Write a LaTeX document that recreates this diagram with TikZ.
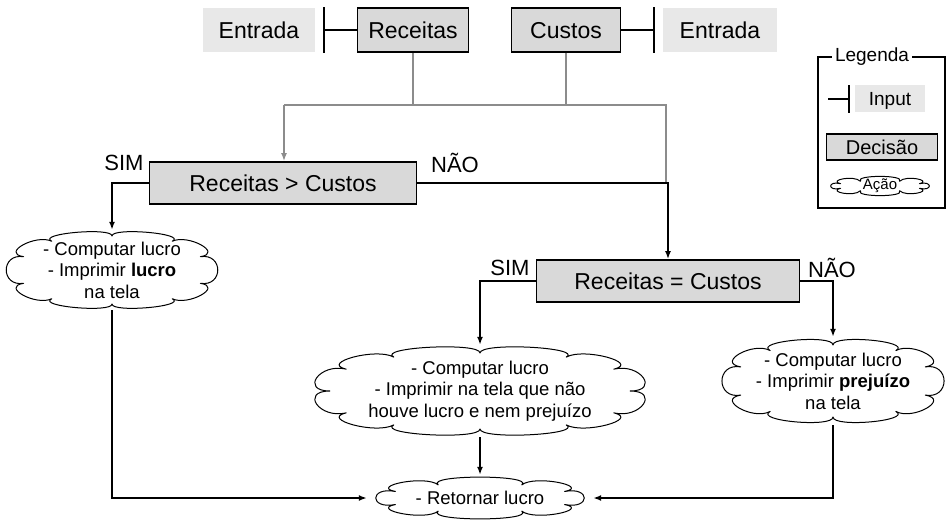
\documentclass[tikz,border=0pt]{standalone}
\usepackage{fontspec}
\setmainfont{Liberation Sans}
\usetikzlibrary{positioning, shapes.geometric, arrows.meta}
\definecolor{boxColor}{RGB}{217,217,217}
\definecolor{inputColor}{RGB}{232,232,232}
\definecolor{feedColor}{RGB}{140,140,140}
\newcommand{\bigFont}{\fontsize{23}{26}\selectfont}
\newcommand{\cloudFont}{\fontsize{18.5}{21.5}\selectfont}
\tikzstyle{inputStyle} = [fill=inputColor, font=\bigFont, minimum height=44, inner sep=0pt, text height=16.5, text depth=0]
\tikzstyle{decisionStyle} = [draw=black, fill=boxColor, line width=1.8, font=\bigFont, minimum height=42, inner sep=0pt, text height=16.5, text depth=0]
\tikzstyle{actionStyle} = [ellipse, align=center, inner sep=0pt, font=\cloudFont]
\tikzstyle{cloudLine} = [line width=1, line join=round]
\tikzstyle{answerText} = [font=\fontsize{22}{24}\selectfont, inner sep=0pt]
\tikzstyle{flowLine} = [line width=1.8, -{Latex[length=8, width=6]}]
\tikzstyle{feedLine} = [color=feedColor, line width=1.8]
\tikzstyle{inputLine} = [line width=1.8]
\newcommand{\inputMark}[3]{
  \draw [inputLine] (#1) -- (#2 |- #1);
  \draw [inputLine] (#2 |- #3.north) -- (#2 |- #3.south);
}
% point of a squarish ellipse: half width, half height, x push, y push, angle, node
\newcommand{\cloudPoint}[6]{([shift={({(#1+#3)*sign(cos(#5))*(abs(cos(#5))+0.001)^0.8},{(#2+#4)*sign(sin(#5))*(abs(sin(#5))+0.001)^0.8})}]#6.center)}
% cloud round a node: name, half width, half height, puffs, puff x, puff y, start angle
\newcommand{\cloudOutline}[7]{
  \draw [cloudLine] \cloudPoint{#2}{#3}{0}{0}{#7}{#1}
    \foreach \i [evaluate=\i as \ta using (\i-1)*360/#4+#7,
                 evaluate=\i as \tb using \i*360/#4+#7] in {1,...,#4} {
      .. controls \cloudPoint{#2}{#3}{#5}{#6}{\ta}{#1}
      and \cloudPoint{#2}{#3}{#5}{#6}{\tb}{#1}
      .. \cloudPoint{#2}{#3}{0}{0}{\tb}{#1}
    } -- cycle;
}

\begin{document}
\begin{tikzpicture}[x=1pt, y=-1pt]
  \useasboundingbox (0,0) rectangle (952,526);

  % entradas
  \node [inputStyle, minimum width=112] (entradaLeft) at (259,30) {Entrada};
  \node [decisionStyle, minimum width=111, minimum height=44] (receitas) at (413,30) {Receitas};
  \node [decisionStyle, minimum width=109, minimum height=44] (custos) at (566,30) {Custos};
  \node [inputStyle, minimum width=114] (entradaRight) at (720,30) {Entrada};
  \coordinate (barLeft) at (324,30);
  \coordinate (barRight) at (654,30);
  \inputMark{receitas.west}{barLeft}{receitas}
  \inputMark{custos.east}{barRight}{custos}

  % decisoes
  \node [decisionStyle, minimum width=267] (gtBox) at (283,183) {Receitas > Custos};
  \node [decisionStyle, minimum width=263] (eqBox) at (668,281) {Receitas = Custos};
  \node [answerText] (gtYes) at (124,163) {SIM};
  \node [answerText] (gtNo) at (455,163) {NÃO};
  \node [answerText] (eqYes) at (510,268) {SIM};
  \node [answerText] (eqNo) at (832,268) {NÃO};

  % acoes
  \node [actionStyle, minimum width=222, minimum height=80] (cloudLucro) at (112,270)
    {- Computar lucro\\- Imprimir \textbf{lucro}\\na tela};
  \node [actionStyle, minimum width=346, minimum height=92] (cloudEmpate) at (480,391)
    {- Computar lucro\\- Imprimir na tela que não\\houve lucro e nem prejuízo};
  \node [actionStyle, minimum width=230, minimum height=88] (cloudPrejuizo) at (833,381)
    {- Computar lucro\\- Imprimir \textbf{prejuízo}\\na tela};
  \node [actionStyle, minimum width=226, minimum height=46] (cloudRetorno) at (480,498)
    {- Retornar lucro};
  \cloudOutline{cloudLucro}{92}{34}{10}{24}{9}{18}
  \cloudOutline{cloudEmpate}{150}{38}{12}{30}{11}{0}
  \cloudOutline{cloudPrejuizo}{96}{36}{10}{26}{11}{18}
  \cloudOutline{cloudRetorno}{90}{14}{8}{28}{11}{22.5}

  % ligacoes
  \coordinate (joinLeft) at (284,105);
  \coordinate (joinRight) at (666,105);
  \draw [feedLine] (receitas.south) -- (receitas.south |- joinLeft);
  \draw [feedLine] (custos.south) -- (custos.south |- joinLeft);
  \draw [feedLine] (joinLeft) -- (joinRight) -- (joinRight |- gtBox.east);
  \draw [feedLine, -{Latex[length=8, width=6]}] (joinLeft) -- (joinLeft |- gtBox.north);
  \draw [flowLine] (gtBox.west) -| (cloudLucro.north);
  \draw [flowLine] (gtBox.east) -| (eqBox.north);
  \draw [flowLine] (eqBox.west) -| (cloudEmpate.north);
  \draw [flowLine] (eqBox.east) -| (cloudPrejuizo.north);
  \draw [flowLine] (cloudLucro.south) |- (cloudRetorno.west);
  \draw [flowLine] (cloudEmpate.south) -- (cloudRetorno.north);
  \draw [flowLine] (cloudPrejuizo.south) |- (cloudRetorno.east);

  % legenda
  \draw [line width=1.8] (818,57) rectangle (945,208);
  \node [fill=white, inner sep=3pt, font=\fontsize{19}{21}\selectfont] (legendTitle) at (872,57) {Legenda};
  \node [inputStyle, minimum width=70, minimum height=27, text height=13.5, font=\fontsize{19}{21}\selectfont] (inputKey) at (890,99) {Input};
  \coordinate (keyStub) at (828,99);
  \coordinate (keyBar) at (849,99);
  \inputMark{keyStub}{keyBar}{inputKey}
  \node [decisionStyle, minimum width=111, minimum height=26, text height=14.5, font=\fontsize{20}{22}\selectfont] (decisionKey) at (882,147) {Decisão};
  \node [actionStyle, minimum width=106, minimum height=22, font=\fontsize{15}{17}\selectfont] (actionKey) at (880,186) {Ação};
  \cloudOutline{actionKey}{42}{5}{8}{14}{7}{22.5}
\end{tikzpicture}
\end{document}
